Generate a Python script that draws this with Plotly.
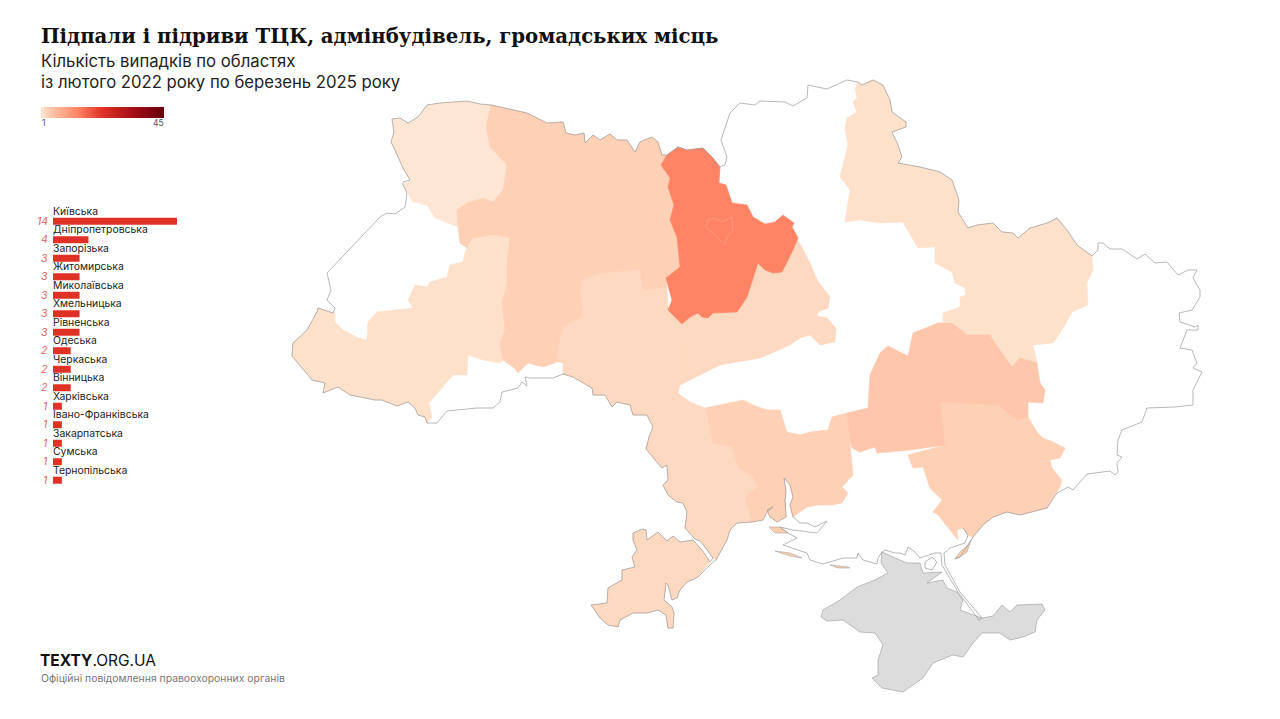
import plotly.graph_objects as go
from plotly.colors import sample_colorscale

# ---------- data ----------
CATEGORIES = ["Київська", "Дніпропетровська", "Запорізька", "Житомирська", "Миколаївська",
              "Хмельницька", "Рівненська", "Одеська", "Черкаська", "Вінницька", "Харківська",
              "Івано-Франківська", "Закарпатська", "Сумська", "Тернопільська"]
COUNTS = [14, 4, 3, 3, 3, 3, 3, 2, 2, 2, 1, 1, 1, 1, 1]
SCALE_LABELS = ["1", "45"]
SCALE_VALUES = list(range(1, 46))

TITLE = "Підпали і підриви ТЦК, адмінбудівель, громадських місць"
SUB1 = "Кількість випадків по областях"
SUB2 = "із лютого 2022 року по березень 2025 року"
BRAND_BOLD = "TEXTY"
BRAND_LIGHT = ".ORG.UA"
SOURCE = "Офіційні повідомлення правоохоронних органів"

COLORSCALE = [[0, "#fde1cb"], [1/44, "#fed9c1"], [2/44, "#fed0b6"], [3/44, "#fec6ab"],
              [13/44, "#ff8364"], [0.5, "#e03127"], [0.75, "#a50f15"], [1, "#67000d"]]
VOLYN_FILL = "#fde7d4"

# region outlines, in map units
VOLYN = [(392,119),(400,118),(408,123),(418,117),(427,105),(440,103),(467,101),(480,104),(491,105),(486,127),(490,147),(507,165),(503,190),(493,202),(483,198),(467,203),(457,210),(458,227),(443,221),(435,218),(427,205),(413,202),(403,185),(410,180),(403,168),(395,150),(391,142),(394,132)]
RIVNE = [(491,105),(513,110),(527,113),(547,123),(563,122),(566,133),(575,135),(577,143),(567,190),(557,213),(507,237),(493,235),(472,238),(467,248),(460,243),(458,227),(457,210),(467,203),(483,198),(493,202),(503,190),(507,165),(490,147),(486,127)]
ZHYTOMYR = [(575,135),(584,133),(585,143),(593,135),(600,140),(610,134),(617,140),(627,140),(635,152),(640,142),(652,137),(658,142),(662,155),(667,155),(661,165),(670,178),(668,187),(674,205),(670,220),(677,237),(680,267),(666,278),(667,287),(643,290),(640,270),(600,273),(582,280),(575,260),(562,215),(557,213),(567,190),(577,143)]
KYIV = [(667,155),(678,147),(687,150),(703,148),(712,157),(720,167),(719,183),(726,185),(732,203),(747,205),(753,217),(765,224),(775,222),(783,215),(794,223),(792,227),(798,238),(793,250),(788,260),(782,272),(773,273),(765,270),(758,263),(753,278),(747,297),(737,312),(713,313),(708,318),(702,317),(698,313),(690,317),(682,324),(668,310),(672,300),(666,278),(680,267),(677,237),(670,220),(674,205),(668,187),(670,178),(661,165)]
KYIV_CITY = [(706,228),(708,220),(715,218),(722,222),(732,217),(733,230),(727,237),(725,245),(720,240),(713,233)]
KHMELNYTSKYI = [(507,237),(557,213),(562,215),(575,260),(582,280),(580,290),(583,317),(563,327),(559,340),(557,362),(543,367),(528,363),(518,373),(513,367),(503,360),(500,343),(505,330),(502,303),(507,283),(507,263),(510,238)]
VINNYTSIA = [(582,280),(600,273),(640,270),(643,290),(667,287),(668,310),(682,324),(680,340),(680,360),(680,385),(678,393),(660,405),(653,427),(648,417),(647,415),(633,415),(630,405),(617,402),(612,407),(605,395),(593,395),(592,388),(573,377),(563,374),(563,363),(557,362),(559,340),(563,327),(583,317),(580,290)]
CHERKASY = [(682,324),(690,317),(698,313),(702,317),(708,318),(713,313),(737,312),(747,297),(753,278),(758,263),(765,270),(773,273),(782,272),(788,260),(798,240),(810,263),(817,280),(830,297),(828,308),(818,312),(817,316),(827,318),(836,328),(835,342),(820,345),(810,335),(800,338),(790,345),(760,358),(720,365),(695,378),(680,385),(680,360),(680,340)]
ODESA_NORTH = [(653,427),(660,405),(678,393),(690,402),(705,408),(713,443),(732,447),(738,468),(753,477),(757,487),(745,498),(752,522),(737,523),(730,530),(727,540),(716,560),(713,558),(705,547),(700,541),(695,539),(685,528),(687,512),(683,503),(677,502),(668,495),(663,485),(668,480),(667,465),(662,468),(655,460),(646,449),(649,437)]
ODESA_SOUTH = [(633,533),(642,529),(646,530),(647,540),(658,532),(667,541),(673,536),(680,542),(693,540),(702,550),(710,562),(698,577),(687,582),(680,590),(677,598),(672,600),(668,585),(666,583),(664,600),(672,607),(674,613),(673,628),(668,628),(666,615),(658,610),(647,613),(633,613),(620,620),(618,627),(608,625),(600,618),(591,605),(607,603),(608,588),(622,580),(622,570),(635,567),(632,557),(637,550),(633,540)]
MYKOLAIV = [(705,408),(727,403),(743,400),(753,405),(767,410),(780,410),(787,432),(800,435),(810,432),(828,430),(832,417),(847,413),(850,448),(852,470),(853,475),(842,487),(848,493),(842,503),(832,505),(818,505),(807,507),(793,517),(790,505),(793,497),(790,485),(784,478),(786,492),(785,500),(786,517),(777,522),(770,517),(767,510),(763,520),(752,522),(745,498),(757,487),(753,477),(738,468),(732,447),(713,443)]
DNIPRO = [(880,353),(888,346),(908,356),(913,333),(938,323),(952,323),(967,335),(990,335),(995,343),(1012,367),(1020,358),(1037,363),(1040,383),(1045,390),(1043,403),(1028,402),(1028,417),(1017,420),(998,405),(940,402),(945,445),(910,450),(877,453),(875,447),(860,452),(852,448),(850,440),(847,413),(868,408),(870,375)]
ZAPORIZHZHIA = [(940,402),(998,405),(1017,420),(1028,417),(1037,432),(1043,438),(1053,442),(1065,448),(1060,458),(1050,460),(1052,468),(1062,480),(1060,487),(1053,498),(1047,508),(1020,515),(1007,512),(993,517),(983,525),(973,537),(968,535),(963,528),(957,530),(958,540),(938,515),(933,512),(942,500),(930,488),(923,467),(913,468),(908,455),(945,445)]
SUMY = [(858,82),(862,85),(873,80),(883,85),(890,100),(892,112),(906,122),(906,127),(892,132),(898,145),(902,157),(898,163),(908,165),(920,167),(940,172),(952,180),(959,200),(958,212),(968,228),(935,247),(918,248),(903,222),(880,223),(860,220),(845,222),(850,190),(840,177),(848,145),(845,128),(847,118),(857,112),(853,102),(857,98),(855,90)]
KHARKIV = [(935,247),(968,228),(977,225),(993,223),(1002,232),(1013,233),(1018,238),(1030,228),(1047,223),(1057,218),(1067,230),(1077,245),(1092,256),(1093,270),(1087,283),(1088,305),(1072,312),(1062,330),(1053,343),(1033,345),(1037,363),(1020,358),(1012,367),(995,343),(990,335),(967,335),(952,323),(943,322),(943,313),(960,307),(960,297),(966,295),(965,288),(955,283),(952,272),(935,263)]
ZAKARPATTIA = [(318,308),(335,313),(335,322),(343,330),(358,338),(367,340),(372,370),(375,400),(350,395),(338,387),(323,393),(325,383),(312,380),(302,368),(292,356),(293,343),(307,330),(317,312)]
IVANO_FRANKIVSK = [(377,312),(413,308),(430,320),(440,345),(453,375),(440,390),(429,403),(432,417),(427,423),(425,417),(418,415),(415,408),(408,402),(397,406),(382,400),(375,400),(372,370),(367,340),(368,322)]
TERNOPIL = [(413,308),(408,300),(415,285),(427,287),(430,282),(447,277),(450,265),(463,262),(465,253),(467,248),(472,238),(493,235),(510,238),(507,263),(507,283),(502,303),(505,330),(500,343),(503,360),(500,363),(483,360),(468,355),(467,375),(453,375),(440,345),(430,320)]
REGIONS = [("Закарпатська", ZAKARPATTIA, 1), ("Івано-Франківська", IVANO_FRANKIVSK, 1),
           ("Тернопільська", TERNOPIL, 1), ("Сумська", SUMY, 1), ("Харківська", KHARKIV, 1),
           ("Вінницька", VINNYTSIA, 2), ("Черкаська", CHERKASY, 2), ("Одеська", ODESA_NORTH, 2),
           ("Одеська", ODESA_SOUTH, 2), ("Рівненська", RIVNE, 3), ("Житомирська", ZHYTOMYR, 3),
           ("Хмельницька", KHMELNYTSKYI, 3), ("Миколаївська", MYKOLAIV, 3), ("Запорізька", ZAPORIZHZHIA, 3),
           ("Дніпропетровська", DNIPRO, 4), ("Київська", KYIV, 14)]

CRIMEA = [(882,552),(881,563),(888,573),(875,580),(857,587),(840,600),(823,610),(821,617),(827,621),(843,620),(860,632),(875,633),(883,645),(878,660),(878,675),(872,678),(882,688),(903,692),(923,678),(933,663),(953,655),(963,657),(973,643),(982,633),(1000,633),(1010,640),(1023,637),(1035,632),(1037,620),(1045,610),(1042,604),(1017,605),(1010,612),(1002,605),(993,616),(982,618),(960,610),(963,600),(957,592),(947,588),(943,580),(927,583),(942,572),(923,573),(920,563),(907,563),(893,557)]
ISLANDS = [[(955,559),(960,552),(968,545),(971,540),(967,552),(960,557)],
           [(769,527),(780,527),(788,533),(780,533),(775,533)],
           [(775,551),(790,553),(802,558),(790,556)],
           [(830,565),(848,567),(850,568),(838,568)]]
BORDER_NORTH_EAST = [(392,119),(400,118),(408,123),(418,117),(427,105),(440,103),(467,101),(480,104),(491,105),(513,110),(527,113),(547,123),(563,122),(566,133),(575,135),(584,133),(585,143),(593,135),(600,140),(610,134),(617,140),(627,140),(635,152),(640,142),(652,137),(658,142),(662,155),(667,155),(678,147),(687,150),(703,148),(712,157),(720,167),(725,165),(727,157),(721,140),(730,113),(740,103),(755,105),(760,101),(785,102),(793,106),(807,98),(808,85),(827,89),(847,80),(858,82),(862,85),(873,80),(883,85),(890,100),(892,112),(906,122),(906,127),(892,132),(898,145),(902,157),(898,163),(908,165),(920,167),(940,172),(952,180),(959,200),(958,212),(968,228),(977,225),(993,223),(1002,232),(1013,233),(1018,238),(1030,228),(1047,223),(1057,218),(1067,230),(1077,245),(1092,256),(1098,250),(1098,243),(1103,243),(1110,249),(1122,249),(1137,259),(1145,254),(1155,263),(1167,262),(1178,275),(1188,270),(1197,270),(1193,278),(1200,290),(1200,297),(1192,310),(1179,313),(1180,322),(1195,327),(1198,325),(1198,330),(1187,330),(1180,348),(1192,350),(1197,363),(1193,368),(1202,372),(1193,390),(1193,405),(1175,407),(1147,408),(1142,422),(1122,430),(1118,440),(1117,455),(1122,457),(1117,463),(1118,472),(1115,475),(1110,471),(1087,474),(1073,490),(1068,487),(1057,493),(1047,508),(1020,515),(1007,512),(993,517),(983,525),(973,537),(970,542),(960,557),(955,559)]
BORDER_SOUTH_WEST = [(963,528),(968,535),(965,543),(950,548),(944,553),(945,565),(960,592),(982,618),(979,620),(958,592),(942,565),(941,553),(935,553),(920,558),(915,552),(908,547),(905,555),(900,553),(895,553),(885,550),(882,552),(878,558),(877,564),(863,560),(858,553),(857,558),(843,558),(823,564),(810,560),(807,553),(792,548),(783,545),(797,538),(788,533),(780,527),(793,530),(817,533),(827,521),(815,527),(807,523),(800,523),(793,517),(790,505),(793,497),(790,485),(784,478),(786,492),(785,500),(786,517),(777,522),(770,517),(767,510),(773,507),(767,512),(763,520),(752,522),(737,523),(730,530),(727,540),(716,560),(713,562),(698,577),(687,582),(680,590),(677,598),(672,600),(668,585),(666,583),(664,600),(672,607),(674,613),(673,628),(668,628),(666,615),(658,610),(647,613),(633,613),(620,620),(618,627),(608,625),(600,618),(591,605),(607,603),(608,588),(622,580),(622,570),(635,567),(632,557),(637,550),(633,540),(633,533),(642,529),(646,530),(647,540),(658,532),(667,541),(673,536),(680,542),(693,540),(702,550),(710,562),(713,558),(705,547),(700,541),(695,539),(685,528),(687,512),(683,503),(677,502),(668,495),(663,485),(668,480),(667,465),(662,468),(655,460),(646,449),(649,437),(653,427),(648,417),(647,415),(633,415),(630,405),(617,402),(612,407),(605,395),(593,395),(592,388),(573,377),(563,374),(553,378),(543,378),(530,378),(525,377),(527,386),(522,382),(518,388),(502,392),(500,402),(493,408),(477,408),(447,411),(437,423),(427,423),(425,417),(418,415),(415,408),(408,402),(397,406),(382,400),(375,400),(350,395),(338,387),(323,393),(325,383),(312,380),(302,368),(292,356),(293,343),(307,330),(317,312),(318,308),(333,313),(335,308),(327,300),(331,290),(327,273),(380,217),(387,213),(395,214),(405,207),(407,193),(403,185),(403,182),(410,180),(403,168),(395,150),(391,142),(394,132),(392,119)]
SIVASH_ISLAND = [(925,562),(932,557),(937,562),(932,570),(925,568),(925,562)]


def colour(v):
    return sample_colorscale(COLORSCALE, [(v - 1) / 44], colortype="rgb")[0]


def xs(points):
    return [p[0] for p in points]


def ys(points):
    return [p[1] for p in points]


fig = go.Figure()


def area(points, fill, name, line_color=None, line_width=0.6):
    closed = list(points) + [points[0]]
    fig.add_trace(go.Scatter(x=xs(closed), y=ys(closed), mode="lines", fill="toself", fillcolor=fill,
                             line=dict(color=line_color or fill, width=line_width), name=name,
                             hoverinfo="name", showlegend=False))


area(VOLYN, VOLYN_FILL, "Волинська")
for name, outline, value in REGIONS:
    area(outline, colour(value), name)
area(KYIV_CITY, colour(14), "м. Київ", "#ff9f85", 0.8)
area(CRIMEA, "#dcdcdc", "АР Крим", "#999999", 0.6)
for island in ISLANDS:
    area(island, "#fbcfae", "", "#999999", 0.5)
for seg in (BORDER_NORTH_EAST, BORDER_SOUTH_WEST, SIVASH_ISLAND):
    fig.add_trace(go.Scatter(x=xs(seg), y=ys(seg), mode="lines", line=dict(color="#999999", width=0.7),
                             hoverinfo="skip", showlegend=False))

# horizontal bars
fig.add_trace(go.Bar(x=COUNTS, y=CATEGORIES, orientation="h", marker=dict(color="#e03127", line_width=0),
                     xaxis="x2", yaxis="y2", width=0.39, showlegend=False))
# scale ramp
fig.add_trace(go.Heatmap(x=SCALE_VALUES, y=[0], z=[SCALE_VALUES], colorscale=COLORSCALE, zmin=1, zmax=45,
                         showscale=False, xaxis="x3", yaxis="y3", hoverinfo="skip"))

SANS = "Inter"
ann = []


def text(x, y, s, size, color, family=SANS, anchor="left"):
    ann.append(dict(xref="x", yref="y", x=x, y=y, text=s, showarrow=False, xanchor=anchor, yanchor="middle",
                    font=dict(size=size, color=color, family=family)))


text(39, 36, f"<b>{TITLE}</b>", 19.7, "#111111", "DejaVu Serif")
text(39, 61, SUB1, 16.7, "#222222")
text(39, 82, SUB2, 16.7, "#222222")
text(39.5, 122.5, SCALE_LABELS[0], 8.5, "#555555")
text(166, 122.5, SCALE_LABELS[1], 8.5, "#555555", anchor="right")
text(38, 660, f"<b>{BRAND_BOLD}</b>{BRAND_LIGHT}", 15.5, "#111111")
text(38.5, 678, SOURCE, 10.4, "#777777")
for c, v in zip(CATEGORIES, COUNTS):
    ann.append(dict(xref="x2", yref="y2", x=0, y=c, text=c, showarrow=False, xanchor="left", yanchor="middle",
                    yshift=10, xshift=-2.5, font=dict(size=10.4, color="#222222", family=SANS)))
    ann.append(dict(xref="x2", yref="y2", x=0, y=c, text=f"<i>{v}</i>", showarrow=False, xanchor="right",
                    yanchor="middle", xshift=-3.5, font=dict(size=10.5, color="#d9675f", family=SANS)))

hidden = dict(visible=False, showgrid=False, zeroline=False)
fig.update_layout(
    width=1280, height=719, margin=dict(l=0, r=0, t=0, b=0), paper_bgcolor="white", plot_bgcolor="white",
    xaxis=dict(range=[0, 1280], domain=[0, 1], **hidden),
    yaxis=dict(range=[719, 0], domain=[0, 1], **hidden),
    xaxis2=dict(range=[0, 14], domain=[53 / 1280, 177 / 1280], anchor="y2", **hidden),
    yaxis2=dict(categoryorder="array", categoryarray=CATEGORIES[::-1], range=[-0.5, 14.5],
                domain=[1 - 489.5 / 719, 1 - 212 / 719], anchor="x2", **hidden),
    xaxis3=dict(range=[0.5, 45.5], domain=[41 / 1280, 164 / 1280], anchor="y3", **hidden),
    yaxis3=dict(range=[-0.5, 0.5], domain=[1 - 118 / 719, 1 - 107 / 719], anchor="x3", **hidden),
    annotations=ann,
    hovermode="closest",
)
fig.write_html("out.html", post_script="document.body.style.margin='0';document.body.style.overflow='hidden';",
               config={"displayModeBar": False})
